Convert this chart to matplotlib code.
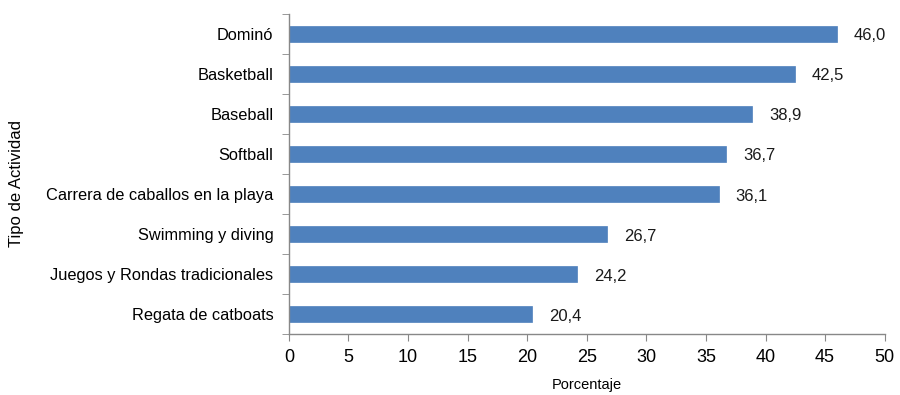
import matplotlib
matplotlib.use("Agg")
import matplotlib.pyplot as plt
import numpy as np

plt.rcParams['font.family'] = ['Liberation Sans', 'DejaVu Sans']

categories = ["Dominó", "Basketball", "Baseball", "Softball",
              "Carrera de caballos en la playa", "Swimming y diving",
              "Juegos y Rondas tradicionales", "Regata de catboats"]
values = [46.0, 42.5, 38.9, 36.7, 36.1, 26.7, 24.2, 20.4]
xticks = [0, 5, 10, 15, 20, 25, 30, 35, 40, 45, 50]

fig = plt.figure(figsize=(9, 3.95), dpi=100)
ax = fig.add_axes([0.321, 0.154, 0.662, 0.811])

n = len(categories)
ypos = np.arange(n)[::-1]
ax.barh(ypos, values, height=0.4, color="#4F81BD", edgecolor="#4F81BD", linewidth=0.5)

for y, v in zip(ypos, values):
    ax.text(v + 1.4, y - 0.05, f"{v:.1f}".replace(".", ","), va="center", ha="left",
            fontsize=12, color="#1a1a1a")

ax.set_xlim(0, 50)
ax.set_ylim(-0.5, n - 0.5)
ax.set_xticks(xticks)
ax.set_xticklabels([str(t) for t in xticks], fontsize=13)
ax.set_yticks(ypos)
ax.set_yticklabels(categories, fontsize=11.8)
ax.set_yticks(np.arange(-0.5, n, 1.0), minor=True)
ax.tick_params(axis='y', which='major', length=0, pad=11)
ax.tick_params(axis='y', which='minor', length=5, direction='out', color='#888888')
ax.tick_params(axis='x', which='major', length=5, direction='out', color='#888888', pad=6)

for s in ['top', 'right']:
    ax.spines[s].set_visible(False)
for s in ['left', 'bottom']:
    ax.spines[s].set_color('#888888')
    ax.spines[s].set_linewidth(1.0)

ax.set_xlabel("Porcentaje", fontsize=10.5, labelpad=8)
ax.set_ylabel("Tipo de Actividad", fontsize=12)
ax.yaxis.set_label_coords(-0.445, 0.47)

fig.savefig("out.png", dpi=100)
